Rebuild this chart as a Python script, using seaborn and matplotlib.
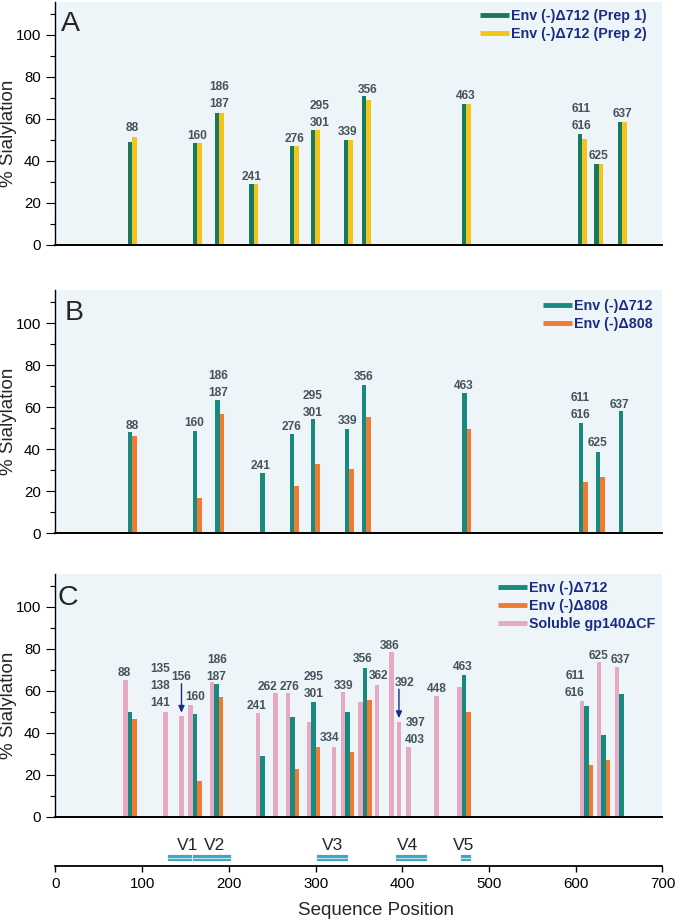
import matplotlib.pyplot as plt
import numpy as np
import pandas as pd
import seaborn as sns
from matplotlib.lines import Line2D
from matplotlib.ticker import MultipleLocator

nan = np.nan

# Panel A: Env(-)delta712, two preparations
sites_a = ["88", "160", "186\n187", "241", "276", "295\n301", "339", "356",
           "463", "611\n616", "625", "637"]
pos_a = [86, 161, 186, 226, 273, 297, 335, 356, 471, 605, 624, 651]
prep1_a = [49.0, 48.4, 63.0, 28.9, 47.1, 54.6, 50.0, 71.0, 67.0, 52.7, 38.7, 58.6]
prep2_a = [51.3, 48.4, 63.0, 28.9, 47.1, 54.6, 50.0, 69.0, 67.0, 50.5, 38.7, 58.6]

# Panel B: Env(-)delta712 vs Env(-)delta808
sites_b = sites_a
pos_b = [86, 161, 187, 239, 273, 297, 336, 356, 471.5, 606, 625.5, 652]
d712_b = [48.1, 48.6, 63.5, 28.9, 47.1, 54.3, 49.8, 70.6, 66.8, 52.4, 38.9, 58.2]
d808_b = [46.3, 16.7, 56.7, nan, 22.4, 33.1, 30.8, 55.2, 49.8, 24.6, 26.7, nan]

# Panel C: membrane Env vs soluble gp140
sites_c = ["88", "135\n138\n141", "156", "160", "186\n187", "241", "262", "276",
           "295\n301", "334", "339", "356", "362", "386", "392", "397\n403",
           "448", "463", "611\n616", "625", "637"]
pos_c = [80.9, 126.8, 145.3, 155.7, 180.7, 233.4, 254.0, 267.9, 292.1, 321.4,
         331.8, 352.0, 371.0, 387.5, 396.1, 407.2, 439.5, 466.1, 607.4, 626.6, 647.8]
gp140_c = [65.1, 50.0, 47.8, 53.3, 64.3, 49.2, 59.1, 58.7, 45.2, 33.1, 59.4,
           54.8, 62.9, 78.6, 45.2, 33.4, 57.5, 61.6, 54.9, 73.6, 71.3]
d712_c = [49.7, nan, nan, 49.0, 63.4, 29.1, nan, 47.6, 54.6, nan, 50.0,
          71.0, nan, nan, nan, nan, nan, 67.3, 52.9, 39.0, 58.6]
d808_c = [46.7, nan, nan, 17.0, 57.0, nan, nan, 22.6, 33.3, nan, 31.0,
          55.4, nan, nan, nan, nan, nan, 50.0, 24.7, 26.9, nan]
arrow_sites = ["156", "392"]

# variable loops along the sequence
v_names = ["V1", "V2", "V3", "V4", "V5"]
v_start = [129, 158, 301, 392, 466]
v_end = [158, 202, 337, 428, 479]

# ---- style ----
STEP = 5.2          # spacing of neighbouring bars in a site group
YMAX = 115.7
BG = "#edf5f9"
LABEL_COLOR = "#45535d"
LEGEND_COLOR = "#1c2c84"
V_COLOR = "#3ea6c3"

# label nudges (dx, dy) in points
nudge_a = [(0, 1.5), (0, 0), (0, 1), (-1.4, 0), (0, -0.4), (3.1, 0.2), (-0.5, 0.5),
           (1, -1), (0, 0.6), (-0.7, 0.6), (0, 0.3), (0, 0.5)]
nudge_b = [(0, -1), (-2.4, 0.4), (-1, -0.5), (-1.9, -0.4), (-2.2, -0.3), (-1.9, -1),
           (-1.4, 0.5), (-2.2, 0.2), (-2.2, 0), (-1.9, 0.9), (-1.7, 0.7), (-0.7, -0.7)]
nudge_c = [(-4.4, 0), (-4, 0.7), (0, 23), (0, 0), (0, -2), (-2.9, 0), (-5.8, -1),
           (-2.3, -0.4), (0.5, 0.7), (-3.4, 1.2), (-3, -1), (-1.9, 0.5), (0.9, 0.7),
           (-1.4, -1.2), (4, 22.8), (4.8, -0.9), (0, 0), (-0.8, 0.7), (-8.6, 0.7),
           (-3.2, -1), (0.7, -0.5)]
v_nudge = [5.3, 1.9, 0.6, -2.2, -1.2]

sns.set_style("ticks")
plt.rcParams["font.family"] = ["Liberation Sans", "DejaVu Sans"]
plt.rcParams["axes.edgecolor"] = "black"
plt.rcParams["xtick.color"] = "black"
plt.rcParams["ytick.color"] = "black"


def long_frame(pos, series):
    rows = []
    for k, (name, vals) in enumerate(series.items()):
        for p, v in zip(pos, vals):
            if not np.isnan(v):
                rows.append({"pos": p + k * STEP, "pct": v, "series": name})
    return pd.DataFrame(rows)


def draw_panel(ax, pos, series, palette, sites, nudges, letter, letter_xy, leg_xy,
               leg_order=None):
    df = long_frame(pos, series)
    w = STEP / np.diff(np.unique(df["pos"])).min()
    sns.barplot(data=df, x="pos", y="pct", hue="series", hue_order=list(series),
                palette=palette, native_scale=True, dodge=False, width=w,
                saturation=1, errorbar=None, legend=False, linewidth=0, ax=ax)
    ax.set_facecolor(BG)
    ax.set_xlim(0, 700)
    ax.set_ylim(0, YMAX)
    ax.set_xticks([])
    ax.set_xlabel("")
    ax.yaxis.set_major_locator(MultipleLocator(20))
    ax.yaxis.set_minor_locator(MultipleLocator(10))
    ax.tick_params(axis="y", which="major", length=6.5, width=0.8, pad=4, labelsize=10.8)
    ax.tick_params(axis="y", which="minor", length=3.6, width=0.8)
    ax.set_ylabel("% Sialylation", fontsize=13.5)
    ax.yaxis.set_label_coords(-0.064, 0.46)
    sns.despine(ax=ax)
    ax.spines["left"].set_linewidth(1.0)
    ax.spines["bottom"].set_linewidth(1.4)

    vals = list(series.values())
    for i, text in enumerate(sites):
        present = [k for k in range(len(vals)) if not np.isnan(vals[k][i])]
        x = np.mean([pos[i] + k * STEP for k in present])
        top = max(vals[k][i] for k in present)
        dx, dy = nudges[i]
        ax.annotate(text, xy=(x, top), xytext=(dx, 1 + dy), textcoords="offset points",
                    ha="center", va="bottom", fontsize=8.6, fontweight="bold",
                    color=LABEL_COLOR, linespacing=1.55)
        if text in arrow_sites and len(series) == 3:
            ax.annotate("", xy=(pos[i], top + 1.7), xytext=(pos[i], top + 15.5),
                        arrowprops=dict(arrowstyle="-|>,head_length=0.4,head_width=0.18",
                                        color=LEGEND_COLOR, lw=1, shrinkA=0, shrinkB=0))

    ax.text(letter_xy[0], letter_xy[1], letter, transform=ax.transAxes,
            ha="left", va="top", fontsize=20.5)
    names = list(series)
    if leg_order is not None:
        names = [names[i] for i in leg_order]
    handles = [Line2D([0], [0], color=palette[n], lw=3.5, solid_capstyle="butt")
               for n in names]
    leg = ax.legend(handles, names, loc="upper right", bbox_to_anchor=leg_xy,
                    frameon=False, borderpad=0, borderaxespad=0, handlelength=2.0,
                    handletextpad=0.15, labelspacing=0.28,
                    prop={"size": 10.3, "weight": "bold"})
    for t in leg.get_texts():
        t.set_color(LEGEND_COLOR)


fig = plt.figure(figsize=(6.8, 9.21), dpi=100)
left, width, height = 0.0816, 0.8926, 243 / 921
ax_a = fig.add_axes([left, 1 - 245 / 921, width, height])
ax_b = fig.add_axes([left, 1 - 533.3 / 921, width, height])
ax_c = fig.add_axes([left, 1 - 816.7 / 921, width, height])

draw_panel(ax_a, pos_a,
           {"Env (-)\u0394712 (Prep 1)": prep1_a, "Env (-)\u0394712 (Prep 2)": prep2_a},
           {"Env (-)\u0394712 (Prep 1)": "#187a5c", "Env (-)\u0394712 (Prep 2)": "#f3c41b"},
           sites_a, nudge_a, "A", (0.009, 0.964), (0.974, 0.970))
draw_panel(ax_b, pos_b,
           {"Env (-)\u0394712": d712_b, "Env (-)\u0394808": d808_b},
           {"Env (-)\u0394712": "#17897f", "Env (-)\u0394808": "#ef7b30"},
           sites_b, nudge_b, "B", (0.015, 0.959), (0.984, 0.963))
draw_panel(ax_c, pos_c,
           {"Soluble gp140\u0394CF": gp140_c, "Env (-)\u0394712": d712_c,
            "Env (-)\u0394808": d808_c},
           {"Soluble gp140\u0394CF": "#e6a8c3", "Env (-)\u0394712": "#17897f",
            "Env (-)\u0394808": "#ef7b30"},
           sites_c, nudge_c, "C", (0.004, 0.955), (0.988, 0.969), leg_order=[1, 2, 0])

# sequence axis with variable loops
ax_s = fig.add_axes([left, 1 - 866 / 921, width, 36 / 921])
ax_s.set_xlim(0, 700)
ax_s.set_ylim(0, 1)
ax_s.patch.set_alpha(0)
for side in ["left", "right", "top"]:
    ax_s.spines[side].set_visible(False)
ax_s.spines["bottom"].set_linewidth(1.3)
ax_s.set_yticks([])
ax_s.set_xticks(range(0, 701, 100))
ax_s.tick_params(axis="x", length=4.3, width=1, pad=3.6, labelsize=10.8)
widths = np.array(v_end) - np.array(v_start)
ax_s.barh(0.232, widths, left=v_start, height=0.186, color=V_COLOR,
          edgecolor="white", linewidth=0.6)
ax_s.hlines([0.232] * len(v_start), v_start, v_end, color="#bfe6f0", lw=0.8)
for name, s, e, dx in zip(v_names, v_start, v_end, v_nudge):
    ax_s.annotate(name, xy=((s + e) / 2, 0.58), xytext=(dx, 0), textcoords="offset points",
                  ha="center", va="center", fontsize=12.5)
ax_s.set_xlabel("Sequence Position", fontsize=13.5)
ax_s.xaxis.set_label_coords(0.528, -1.0)

fig.savefig("out.png", dpi=100)
